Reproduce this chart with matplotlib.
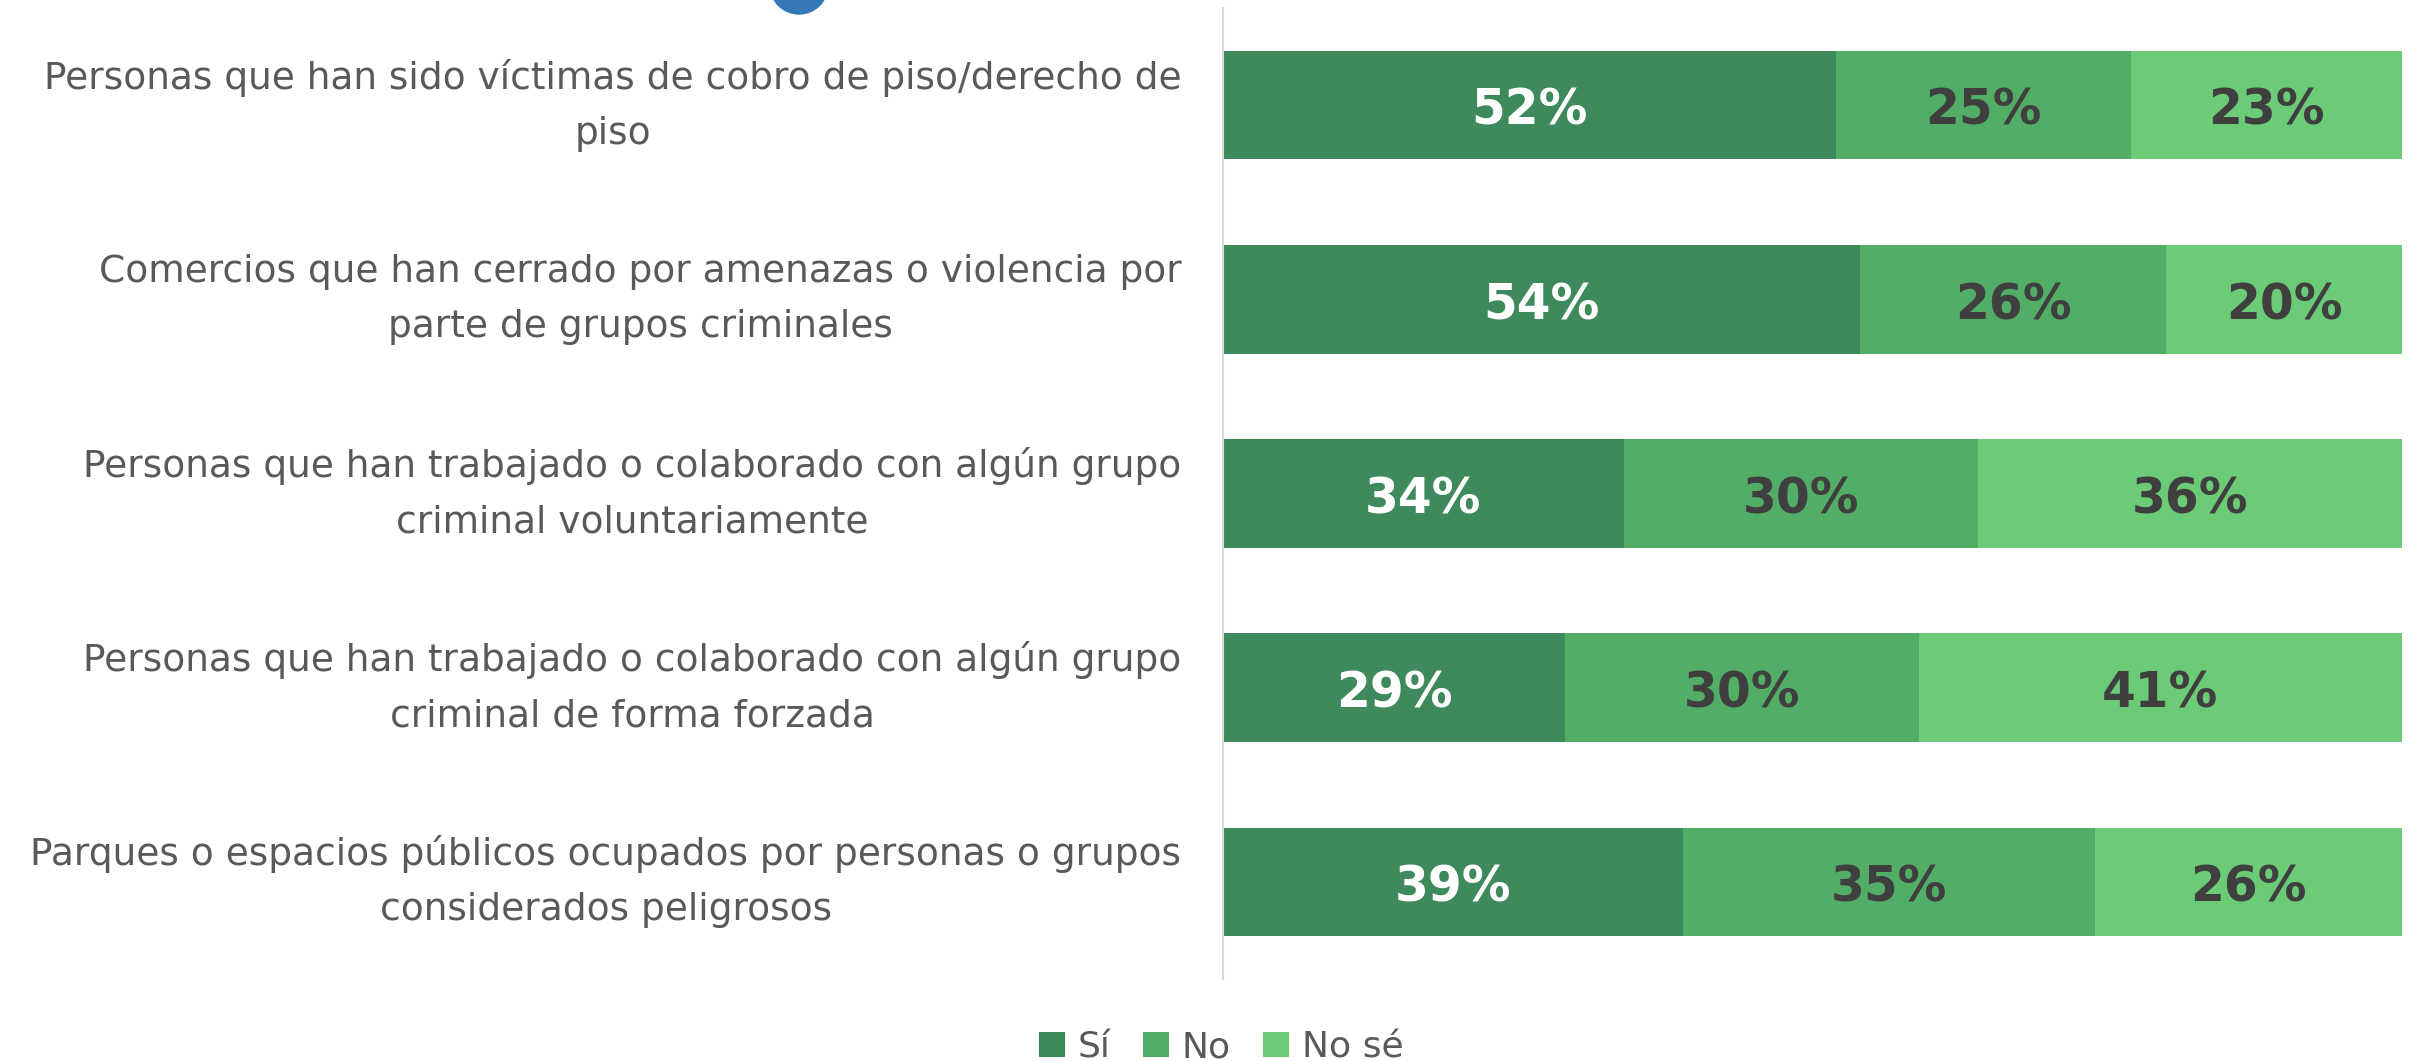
import matplotlib
matplotlib.use("Agg")
import matplotlib.pyplot as plt
from matplotlib.patches import Ellipse, Patch

categories = [
    "Personas que han sido víctimas de cobro de piso/derecho de\npiso",
    "Comercios que han cerrado por amenazas o violencia por\nparte de grupos criminales",
    "Personas que han trabajado o colaborado con algún grupo\ncriminal voluntariamente",
    "Personas que han trabajado o colaborado con algún grupo\ncriminal de forma forzada",
    "Parques o espacios públicos ocupados por personas o grupos\nconsiderados peligrosos",
]
series_names = ["Sí", "No", "No sé"]
si = [52, 54, 34, 29, 39]
no = [25, 26, 30, 30, 35]
nose = [23, 20, 36, 41, 26]

colors = ["#3E8A5C", "#52AE66", "#6BCB77"]
text_colors = ["white", "#3F3F3F", "#3F3F3F"]

plt.rcParams["font.family"] = ["DejaVu Sans"]

W, H = 2418, 1061
fig = plt.figure(figsize=(W / 100, H / 100), dpi=100)
ax = fig.add_axes([1223 / W, 1 - 979 / H, (2402 - 1223) / W, (979 - 8) / H])

y = list(range(len(categories)))
left = [0] * len(categories)
for vals, col, tcol in zip([si, no, nose], colors, text_colors):
    ax.barh(y, vals, left=left, height=0.56, color=col, edgecolor="none")
    for yi, l, v in zip(y, left, vals):
        ax.text(l + v / 2, yi + 0.03, f"{v}%", ha="center", va="center",
                color=tcol, fontsize=35, fontweight="bold")
    left = [a + b for a, b in zip(left, vals)]

ax.set_xlim(0, 100)
ax.set_ylim(len(categories) - 0.5, -0.5)
ax.set_yticks(y)
ax.set_yticklabels(categories, fontsize=27, color="#595959",
                   multialignment="center", linespacing=1.68, va="center")
ax.tick_params(axis="y", length=0, pad=30)
ax.set_xticks([])
for s in ["top", "right", "bottom"]:
    ax.spines[s].set_visible(False)
ax.spines["left"].set_color("#D9D9D9")
ax.spines["left"].set_linewidth(1.5)

handles = [Patch(facecolor=c, edgecolor="none") for c in colors]
fig.legend(handles, series_names, loc="center", bbox_to_anchor=(0.505, 1 - 1047 / H),
           ncol=3, frameon=False, fontsize=26, labelcolor="#595959",
           handlelength=0.72, handleheight=0.72, handletextpad=0.35, columnspacing=0.9)

r = 29
circ = Ellipse((799 / W, 1 + 15 / H), 2 * r / W, 2 * r / H, transform=fig.transFigure,
               color="#3478B8", clip_on=False)
fig.patches.append(circ)

fig.savefig("out.png", dpi=100)
